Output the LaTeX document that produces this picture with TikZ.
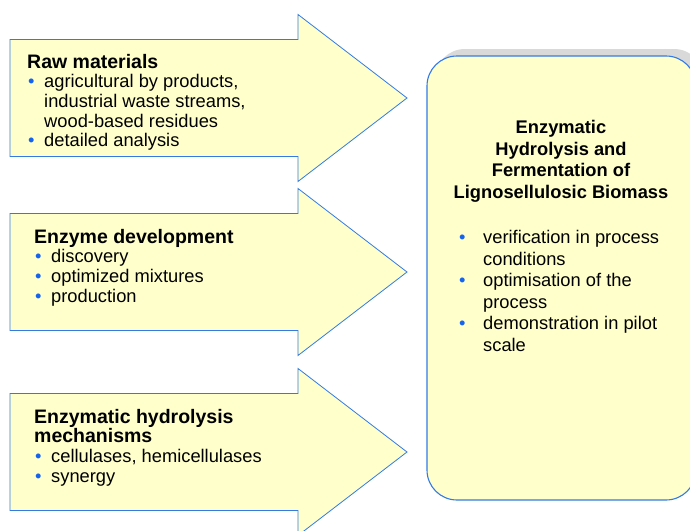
\documentclass[tikz,border=0pt]{standalone}
\usepackage{fontspec}
\setmainfont{Liberation Sans}
\usetikzlibrary{positioning}
\definecolor{boxfill}{RGB}{255,255,204}
\definecolor{boxline}{RGB}{51,122,230}
\definecolor{dotblue}{RGB}{20,100,240}
\definecolor{boxshadow}{RGB}{217,217,217}
\newcommand{\dotitem}[1]{\makebox[#1][l]{\hspace{1pt}\textcolor{dotblue}{\textbullet}}}
\newcommand{\headline}[1]{{\fontsize{19.5}{19.6}\selectfont\bfseries #1}}

\begin{document}
\begin{tikzpicture}[x=1pt, y=-1pt,
  bigarrow/.style={draw=boxline, line width=0.8pt, fill=boxfill, line join=miter},
  lefttext/.style={anchor=north west, inner sep=0pt, align=left,
    font=\fontsize{18.3}{19.6}\selectfont},
  righttext/.style={inner sep=0pt, font=\fontsize{18.3}{21.6}\selectfont}]

\useasboundingbox (0,0) rectangle (690,530);
\clip (0,0) rectangle (690,530);

% three arrows pointing at the box
\foreach \c in {98,272,452}
  \draw[bigarrow] (10,\c-58.5) -- (298,\c-58.5) -- (298,\c-83.5) -- (407,\c)
    -- (298,\c+83.5) -- (298,\c+58.5) -- (10,\c+58.5) -- cycle;

% rounded box with its shadow
\fill[boxshadow, rounded corners=30pt] (435,49) rectangle (704,493);
\draw[draw=boxline, line width=1.1pt, fill=boxfill, rounded corners=30pt] (427,56) rectangle (696,500);

\node[lefttext] (raw) at (27,54) {\headline{Raw materials}\\
  \dotitem{17pt}agricultural by products,\\
  \hspace*{17pt}industrial waste streams,\\
  \hspace*{17pt}wood-based residues\\
  \dotitem{17pt}detailed analysis};

\node[lefttext] (enzdev) at (34,229) {\headline{Enzyme development}\\
  \dotitem{17pt}discovery\\
  \dotitem{17pt}optimized mixtures\\
  \dotitem{17pt}production};

\node[lefttext] (mech) at (34,409) {\headline{Enzymatic hydrolysis}\\
  \headline{mechanisms}\\
  \dotitem{17pt}cellulases, hemicellulases\\
  \dotitem{17pt}synergy};

\node[righttext, anchor=north, align=center] (title) at (561,120) {\textbf{Enzymatic}\\
  \textbf{Hydrolysis and}\\
  \textbf{Fermentation of}\\
  \textbf{Lignosellulosic Biomass}};

\node[righttext, anchor=north west, align=left] (steps) at (458,230) {\dotitem{25pt}verification in process\\
  \hspace*{25pt}conditions\\
  \dotitem{25pt}optimisation of the\\
  \hspace*{25pt}process\\
  \dotitem{25pt}demonstration in pilot\\
  \hspace*{25pt}scale};

\end{tikzpicture}
\end{document}
